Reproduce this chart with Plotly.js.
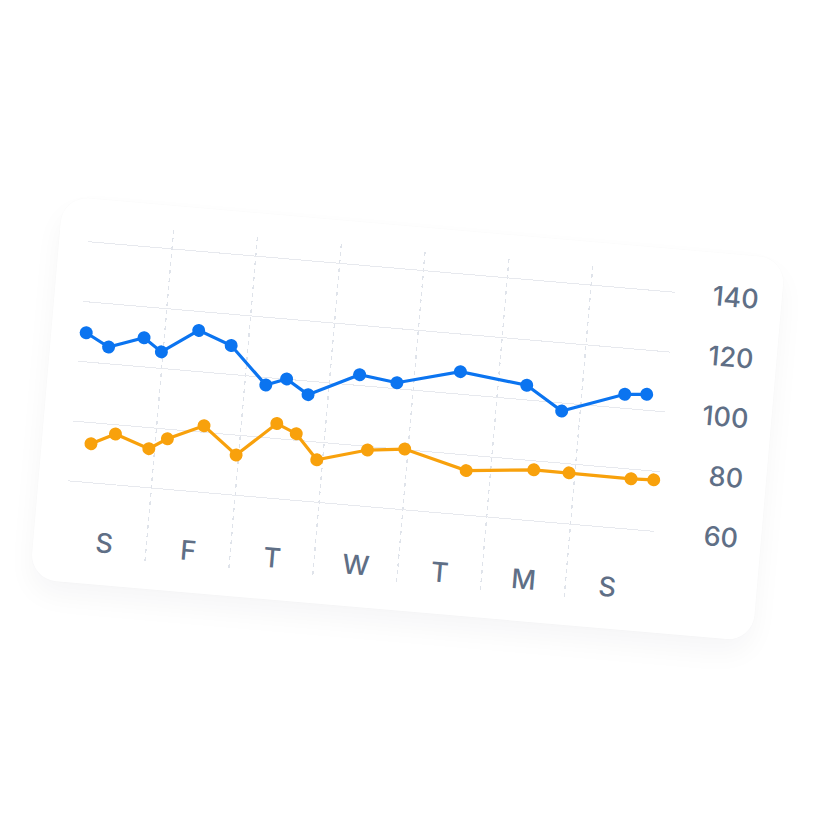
<!DOCTYPE html>
<html>
<head>
<meta charset="utf-8">
<script src="https://cdn.plot.ly/plotly-3.0.1.min.js"></script>
<style>
  html, body { margin: 0; padding: 0; background: #ffffff; width: 820px; height: 840px; overflow: hidden; }
  #stage { position: absolute; left: 0; top: 0; width: 820px; height: 840px;
           transform-origin: 410px 420px; transform: rotate(4.93deg); }
  #card { position: absolute; left: 45px; top: 227px; width: 725px; height: 384px;
          background: #ffffff; border-radius: 26px;
          box-shadow: 0 0 0 1px rgba(15,23,42,0.007), 0 14px 28px rgba(15,23,42,0.04); }
  #chart { position: absolute; left: 0; top: 0; width: 725px; height: 384px; }
</style>
</head>
<body>
<div id="stage"><div id="card"><div id="chart"></div></div></div>
<script>
// Category labels (x) and y tick labels
const dayLabels = ['S', 'F', 'T', 'W', 'T', 'M', 'S'];
const dayCenters = [0.5, 1.5, 2.5, 3.5, 4.5, 5.5, 6.5];
const dayBounds = [1, 2, 3, 4, 5, 6];
const yTicks = [60, 80, 100, 120, 140];

// Blue series
const blueX = [0.07, 0.35, 0.76, 0.98, 1.40, 1.80, 2.25, 2.49, 2.76, 3.35, 3.80, 4.54, 5.34, 5.78, 6.51, 6.77];
const blueY = [109.7, 105.6, 109.7, 105.5, 113.7, 109.6, 97.5, 100.1, 95.5, 103.6, 102.0, 107.5, 104.9, 97.3, 104.7, 105.3];

// Orange series
const orangeX = [0.24, 0.52, 0.93, 1.14, 1.56, 1.97, 2.42, 2.66, 2.93, 3.52, 3.96, 4.71, 5.51, 5.93, 6.67, 6.94];
const orangeY = [73.0, 76.9, 73.0, 76.8, 82.2, 73.4, 85.0, 82.2, 74.1, 78.8, 80.2, 74.8, 77.0, 77.0, 76.8, 77.1];

const BLUE = '#0b74f0';
const ORANGE = '#f8a10c';
const LABEL = '#5f6f86';
const FONT = { family: 'Inter, "Noto Sans", sans-serif', color: LABEL, size: 27, weight: 500 };

const traces = [
  { x: orangeX, y: orangeY, type: 'scatter', mode: 'lines+markers', cliponaxis: false,
    line: { color: ORANGE, width: 3.2 }, marker: { color: ORANGE, size: 13 }, hoverinfo: 'skip' },
  { x: blueX, y: blueY, type: 'scatter', mode: 'lines+markers', cliponaxis: false,
    line: { color: BLUE, width: 3.2 }, marker: { color: BLUE, size: 13 }, hoverinfo: 'skip' }
];

const layout = {
  width: 725, height: 384,
  margin: { l: 29, r: 23, t: 24, b: 24, pad: 0 },
  paper_bgcolor: 'rgba(0,0,0,0)', plot_bgcolor: 'rgba(0,0,0,0)',
  showlegend: false,
  font: FONT,
  xaxis: {
    domain: [0, 0.8752], range: [0, 7], fixedrange: true,
    tickmode: 'array', tickvals: dayCenters, ticktext: dayLabels,
    ticklabelposition: 'inside', ticks: '', showgrid: false, zeroline: false, showline: false,
    tickfont: FONT,
    minor: { tickmode: 'array', tickvals: dayBounds, showgrid: true, gridcolor: '#dfe3ea',
             gridwidth: 1.3, griddash: '4px,4px', ticks: '' }
  },
  yaxis: {
    range: [34.33, 146.33], fixedrange: true,
    anchor: 'free', position: 1, side: 'left',
    tickmode: 'array', tickvals: yTicks, ticktext: yTicks.map(String),
    ticks: '', showgrid: true, gridcolor: '#e7e9ee', gridwidth: 1,
    zeroline: false, showline: false,
    tickfont: FONT
  }
};

Plotly.newPlot('chart', traces, layout, { staticPlot: true, displayModeBar: false });
</script>
</body>
</html>
